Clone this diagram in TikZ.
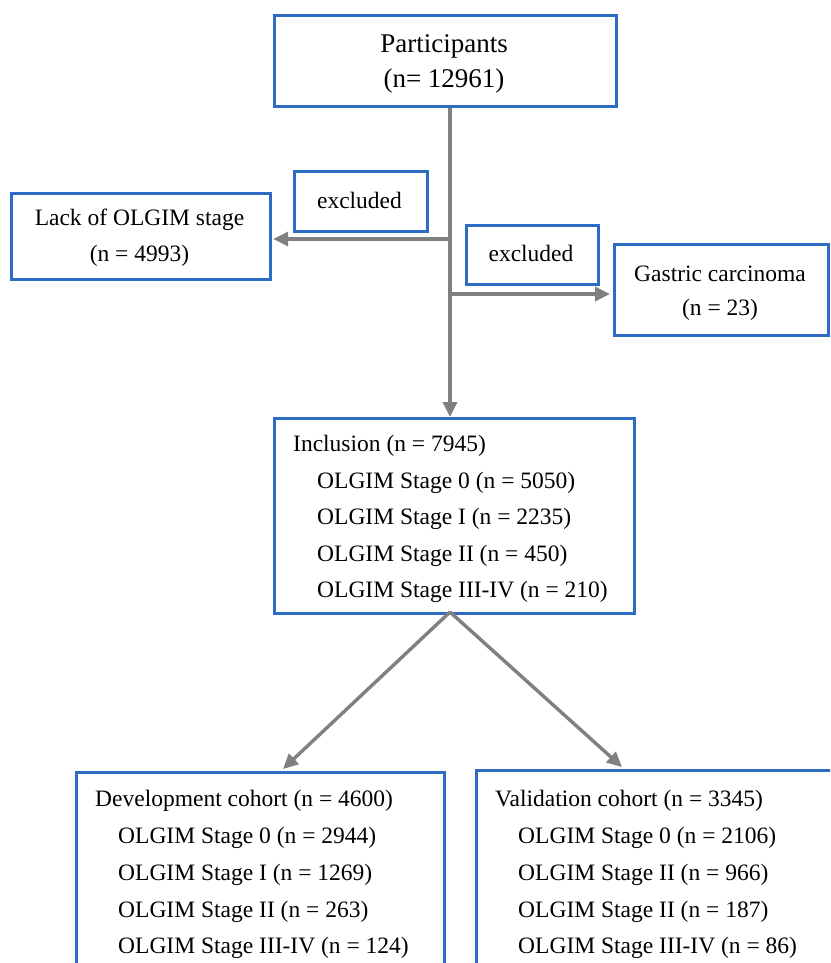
\documentclass[tikz,border=0pt]{standalone}
\usepackage{fontspec}
\setmainfont{Liberation Serif}
\usetikzlibrary{arrows.meta}
\definecolor{boxblue}{RGB}{46,107,196}
\definecolor{conngray}{RGB}{128,128,128}
\tikzset{
  box/.style={draw=boxblue, line width=3.2pt, rectangle, inner sep=0pt, anchor=north west},
  conn/.style={draw=conngray, line width=3.4pt, -{Triangle[length=15pt,width=14pt]}},
  txt/.style={font=\fontsize{23.5}{28}\selectfont, inner sep=0pt, text=black},
  bigtxt/.style={font=\fontsize{27}{32}\selectfont, inner sep=0pt, text=black},
}
\begin{document}
\begin{tikzpicture}[x=1pt,y=-1pt]
\useasboundingbox (0,0) rectangle (830,963);
\clip (0,0) rectangle (830,963);
\fill[white] (0,0) rectangle (830,963);

% boxes
\node[box, minimum width=342pt, minimum height=91pt] (top) at (273,14) {};
\node[box, minimum width=133pt, minimum height=60pt] (exl) at (293,170) {};
\node[box, minimum width=259pt, minimum height=86pt] (lack) at (10,192) {};
\node[box, minimum width=132pt, minimum height=59pt] (exr) at (465,224) {};
\node[box, minimum width=214pt, minimum height=91pt] (gas) at (613,243) {};
\node[box, minimum width=360pt, minimum height=195pt] (inc) at (273,417) {};
\node[box, minimum width=368pt, minimum height=220pt] (dev) at (75,771) {};
\node[box, minimum width=370pt, minimum height=220pt] (val) at (475,769) {};

% texts
\node[bigtxt] (t1) at (444,46) {Participants};
\node[bigtxt] (t2) at (444,81) {(n= 12961)};
\node[txt] (e1) at (359.5,200) {excluded};
\node[txt] (l1) at (139.5,220) {Lack of OLGIM stage};
\node[txt] (l2) at (139.5,256) {(n = 4993)};
\node[txt] (e2) at (531,253) {excluded};
\node[txt] (g1) at (720,274) {Gastric carcinoma};
\node[txt] (g2) at (720,310) {(n = 23)};

\node[txt, anchor=west] (i0) at (293,446) {Inclusion (n = 7945)};
\node[txt, anchor=west] (i1) at (317,482.5) {OLGIM Stage 0 (n = 5050)};
\node[txt, anchor=west] (i2) at (317,519) {OLGIM Stage I (n = 2235)};
\node[txt, anchor=west] (i3) at (317,555.5) {OLGIM Stage II (n = 450)};
\node[txt, anchor=west] (i4) at (317,592) {OLGIM Stage III-IV (n = 210)};

\node[txt, anchor=west] (d0) at (95,801) {Development cohort (n = 4600)};
\node[txt, anchor=west] (d1) at (118,838) {OLGIM Stage 0 (n = 2944)};
\node[txt, anchor=west] (d2) at (118,875) {OLGIM Stage I (n = 1269)};
\node[txt, anchor=west] (d3) at (118,912) {OLGIM Stage II (n = 263)};
\node[txt, anchor=west] (d4) at (118,948) {OLGIM Stage III-IV (n = 124)};

\node[txt, anchor=west] (v0) at (495,801) {Validation cohort (n = 3345)};
\node[txt, anchor=west] (v1) at (518,838) {OLGIM Stage 0 (n = 2106)};
\node[txt, anchor=west] (v2) at (518,875) {OLGIM Stage II (n = 966)};
\node[txt, anchor=west] (v3) at (518,912) {OLGIM Stage II (n = 187)};
\node[txt, anchor=west] (v4) at (518,948) {OLGIM Stage III-IV (n = 86)};

% connectors
\coordinate (jl) at (450,239);
\coordinate (jr) at (450,294);
\coordinate (split) at (450,612);
\coordinate (devin) at (283,769);
\coordinate (valin) at (622,767);
\draw[conn] (top.south -| jl) -- (inc.north -| jl);
\draw[conn] (jl) -- ([xshift=1pt]jl -| lack.east);
\draw[conn] (jr) -- ([xshift=-3pt]jr -| gas.west);
\draw[conn] (split) -- (devin);
\draw[conn] (split) -- (valin);
\end{tikzpicture}
\end{document}
